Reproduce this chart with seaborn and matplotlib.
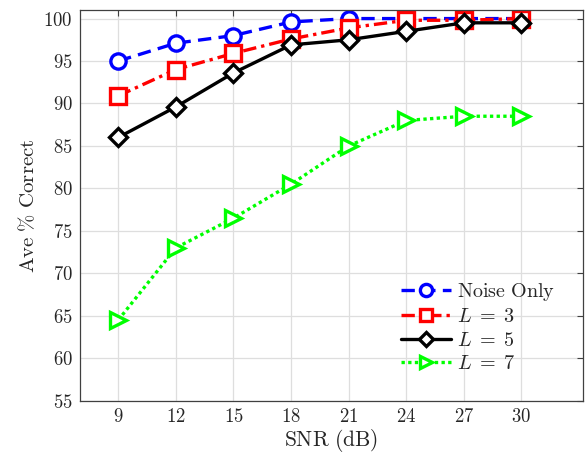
import numpy as np
import pandas as pd
import matplotlib
matplotlib.use('Agg')
import matplotlib.pyplot as plt
import seaborn as sns

# data
snr = [9, 12, 15, 18, 21, 24, 27, 30]
noise_only = [95.0, 97.1, 98.0, 99.6, 100.0, 100.0, 100.0, 100.0]
l3 = [90.9, 94.0, 95.9, 97.6, 98.9, 99.8, 99.8, 100.0]
l5 = [86.0, 89.6, 93.6, 96.9, 97.5, 98.5, 99.5, 99.5]
l7 = [64.5, 73.0, 76.5, 80.5, 85.0, 88.0, 88.5, 88.5]
labels = ["$\\mathrm{Noise\\ Only}$", "$L\\;=\\;3$", "$L\\;=\\;5$", "$L\\;=\\;7$"]
yticks = [55, 60, 65, 70, 75, 80, 85, 90, 95, 100]

sns.set_style("white")
plt.rcParams['mathtext.fontset'] = 'cm'
plt.rcParams['font.family'] = ['DejaVu Serif']

fig = plt.figure(figsize=(5.87, 4.58), dpi=100)
ax = fig.add_axes([0.136, 0.125, 0.857, 0.853])

styles = [
    (noise_only, (0, 0, 1), (0, (4, 2.2)), 'o'),
    (l3, (1, 0, 0), (0, (4, 1.5, 1, 1.5)), 's'),
    (l5, (0, 0, 0), '-', 'D'),
    (l7, (0, 1, 0), (0, (1, 1)), '>'),
]
for (vals, col, ls, mk), lab in zip(styles, labels):
    df = pd.DataFrame({"snr": snr, "acc": vals})
    sns.lineplot(data=df, x="snr", y="acc", ax=ax, color=col, linestyle=ls,
                 marker=mk, markersize=11 if mk != 'D' else 9.5,
                 markerfacecolor='white', markeredgecolor=col,
                 markeredgewidth=2.4, linewidth=2.4, label=lab)

ax.set_xlim(7, 33.2)
ax.set_ylim(55, 101)
ax.set_xticks(snr)
ax.set_xticklabels([f"${t}$" for t in snr], fontsize=13.5)
ax.set_yticks(yticks)
ax.set_yticklabels([f"${t}$" for t in yticks], fontsize=13.5)
ax.set_xlabel("$\\mathrm{SNR\\ (dB)}$", fontsize=15.5, labelpad=1)
ax.set_ylabel("$\\mathrm{Ave\\ \\%\\ Correct}$", fontsize=15, labelpad=4)

ax.grid(True, color='#dedede', linewidth=0.9)
for s in ax.spines.values():
    s.set_color('#404040')
    s.set_linewidth(0.9)
ax.tick_params(direction='in', top=True, right=True, length=4, width=0.8,
               color='#404040', pad=5)

ax.legend(loc='lower right', bbox_to_anchor=(0.973, 0.035), frameon=False,
          fontsize=14.5, handlelength=2.5, handletextpad=0.3, labelspacing=0.22,
          borderpad=0.2, markerscale=0.8)

fig.savefig("out.png", dpi=100)
